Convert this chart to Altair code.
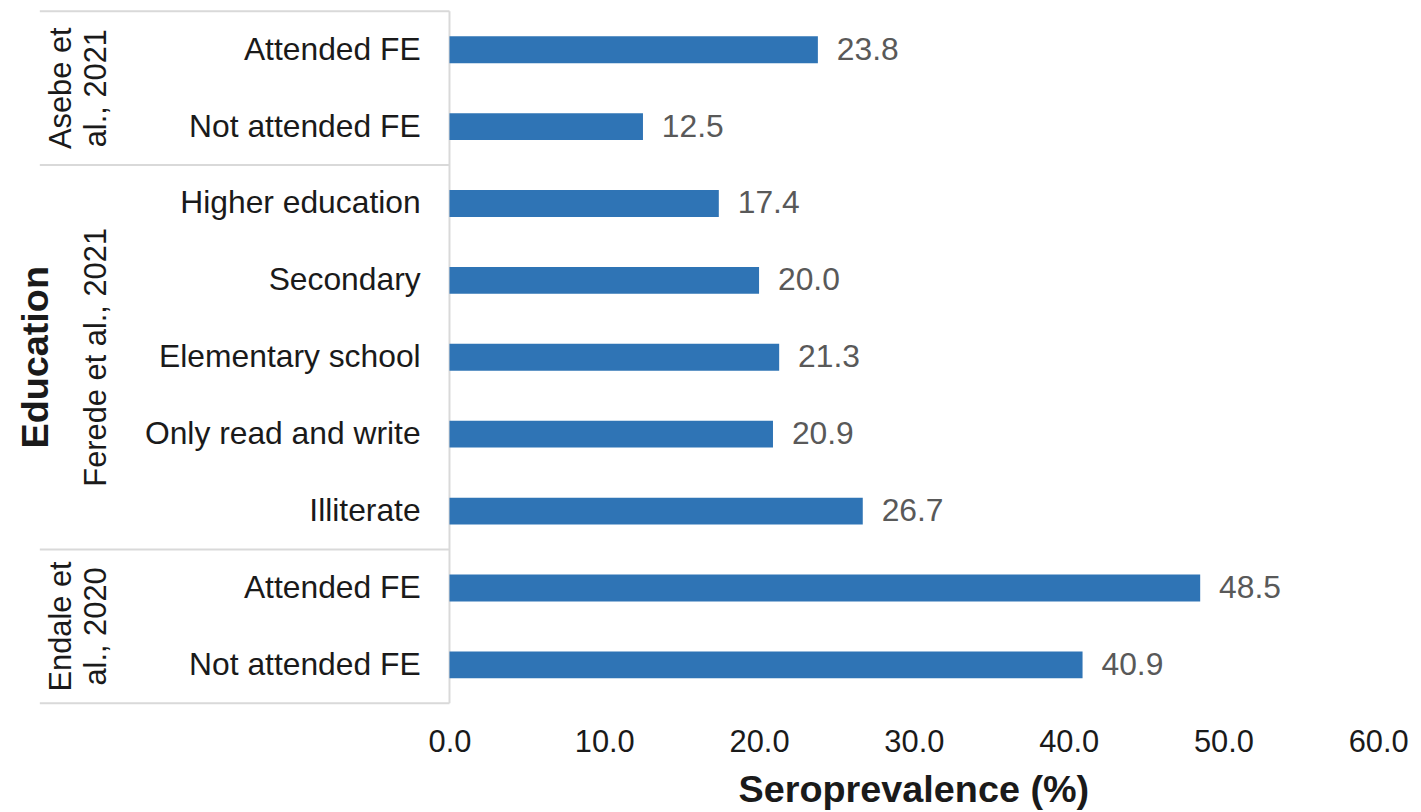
import altair as alt
import pandas as pd

# ---- data ----
categories = ["Attended FE", "Not attended FE", "Higher education", "Secondary",
              "Elementary school", "Only read and write", "Illiterate",
              "Attended FE", "Not attended FE"]
values = [23.8, 12.5, 17.4, 20.0, 21.3, 20.9, 26.7, 48.5, 40.9]
studies = ["Asebe et al., 2021", "Ferede et al., 2021", "Endale et al., 2020"]
study_sizes = [2, 5, 2]
study_line1 = ["Asebe et", "", "Endale et"]
study_line2 = ["al., 2021", "Ferede et al., 2021", "al., 2020"]
x_ticks = [0, 10, 20, 30, 40, 50, 60]

FONT = "Liberation Sans"
BAR = "#2F74B5"
GRID = "#d9d9d9"
W, H = 934, 696

rows = pd.DataFrame({"idx": list(range(len(categories))),
                     "category": categories, "value": values})

centers, bounds = [], [-0.5]
s = 0
for n in study_sizes:
    centers.append(s + (n - 1) / 2)
    s += n
    bounds.append(s - 0.5)
groups = pd.DataFrame({"study": studies, "center": centers,
                       "l1": study_line1, "l2": study_line2})
seps = pd.DataFrame({"b": bounds})
vline = pd.DataFrame({"b0": [bounds[0]], "b1": [bounds[-1]]})

yscale = alt.Scale(domain=[-0.5, len(categories) - 0.5], reverse=True,
                   nice=False, zero=False, padding=0)
xscale = alt.Scale(domain=[0, 60], nice=False, padding=0)
xaxis = alt.Axis(values=x_ticks, format=".1f", grid=False, domain=False,
                 ticks=False, tickSize=0, labelPadding=24, labelFontSize=31,
                 labelFlush=False, labelFont=FONT, labelColor="#1a1a1a", title=None)


def Y(field):
    return alt.Y(field, scale=yscale, axis=None)


base = alt.Chart(rows)

bars = base.mark_bar(orient="horizontal", size=27, color=BAR).encode(
    x=alt.X("value:Q", scale=xscale, axis=xaxis),
    y=Y("idx:Q"),
)

vals = base.mark_text(align="left", baseline="middle", dx=19, fontSize=32,
                      font=FONT, color="#595959").encode(
    x=alt.X("value:Q", scale=xscale, axis=xaxis),
    y=Y("idx:Q"),
    text=alt.Text("value:Q", format=".1f"),
)

cat_labels = base.mark_text(align="right", baseline="middle", fontSize=32,
                            font=FONT, color="#1a1a1a").encode(
    x=alt.value(-29),
    y=Y("idx:Q"),
    text="category:N",
)

g = alt.Chart(groups)
grp1 = g.mark_text(align="center", baseline="middle", angle=270, fontSize=31,
                   font=FONT, color="#1a1a1a").encode(
    x=alt.value(-390), y=Y("center:Q"), text="l1:N")
grp2 = g.mark_text(align="center", baseline="middle", angle=270, fontSize=31,
                   font=FONT, color="#1a1a1a").encode(
    x=alt.value(-354), y=Y("center:Q"), text="l2:N")

hsep = alt.Chart(seps).mark_rule(color=GRID, strokeWidth=2).encode(
    x=alt.value(-412), x2=alt.value(0), y=Y("b:Q"))
vsep = alt.Chart(vline).mark_rule(color=GRID, strokeWidth=2).encode(
    x=alt.value(0), y=Y("b0:Q"), y2=alt.Y2("b1"))

title_df = pd.DataFrame({"t": ["Seroprevalence (%)"], "e": ["Education"]})
xtitle = alt.Chart(title_df).mark_text(align="center", baseline="alphabetic",
                                       fontSize=38, fontWeight="bold", font=FONT,
                                       color="#1a1a1a").encode(
    x=alt.value(W / 2), y=alt.value(H + 99), text="t:N")
ytitle = alt.Chart(title_df).mark_text(align="center", baseline="middle", angle=270,
                                       fontSize=38, fontWeight="bold", font=FONT,
                                       color="#1a1a1a").encode(
    x=alt.value(-415), y=alt.value(H / 2), text="e:N")

chart = alt.layer(hsep, vsep, bars, vals, cat_labels, grp1, grp2, xtitle, ytitle).properties(
    width=W, height=H,
    autosize=alt.AutoSizeParams(type="none"),
    padding={"left": 444, "top": 1, "right": 35, "bottom": 106},
).configure_view(stroke=None)

chart.save("out.html", embed_options={"renderer": "svg", "actions": False})
